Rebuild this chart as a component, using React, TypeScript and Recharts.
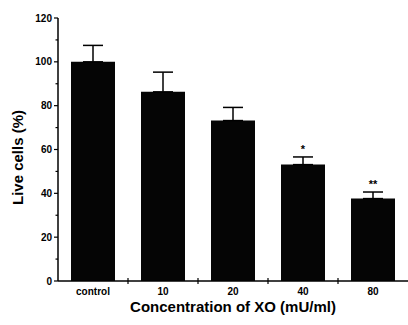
import { ComposedChart, Bar, Line, XAxis, YAxis, ErrorBar, LabelList } from 'recharts'

const CATEGORIES = ['control', '10', '20', '40', '80']
const LIVE = [100, 86.3, 73.2, 53.1, 37.6]
const SD = [7.5, 9, 6, 3.5, 3]
const SIG = ['', '', '', '*', '**']
const Y_TICKS = [0, 10, 20, 30, 40, 50, 60, 70, 80, 90, 100, 110, 120]

const data = CATEGORIES.map((c, i) => ({
  name: c,
  live: LIVE[i],
  err: [0, SD[i]],
  top: LIVE[i] + SD[i],
  sig: SIG[i],
}))

const font = '"Liberation Sans", Arial, sans-serif'

// y ticks: labels on every 20, short minor ticks between
const YTick = (props: any) => {
  const { x, y, payload } = props
  const major = payload.value % 20 === 0
  return (
    <g>
      <line x1={x - (major ? 4 : 2.5)} x2={x} y1={y} y2={y} stroke="#000" strokeWidth={1.2} />
      {major && (
        <text x={x - 6} y={y} dy={3.5} textAnchor="end" fill="#000" fontFamily={font} fontSize={10} fontWeight={700}>
          {payload.value}
        </text>
      )}
    </g>
  )
}

// x ticks: label at centre, crossing tick at category boundary
const XTick = (props: any) => {
  const { x, y, payload, index } = props
  const bx = x + (payload.offset ?? 0)
  return (
    <g>
      {index < CATEGORIES.length - 1 && (
        <line x1={bx} x2={bx} y1={y - 3} y2={y + 3} stroke="#000" strokeWidth={1.2} />
      )}
      <text x={x} y={y} dy={14} textAnchor="middle" fill="#000" fontFamily={font} fontSize={10} fontWeight={700}>
        {payload.value}
      </text>
    </g>
  )
}

export default function App() {
  return (
    <div style={{ width: 408, height: 325, background: '#fff' }}>
      <style>{`body{margin:0}`}</style>
      <ComposedChart width={408} height={325} data={data} margin={{ top: 18, right: 0, left: 0, bottom: 0 }}>
        <XAxis
          dataKey="name"
          height={44}
          interval={0}
          axisLine={{ stroke: '#000', strokeWidth: 1.5 }}
          tickLine={false}
          tickSize={0}
          tickMargin={0}
          tick={<XTick />}
          label={{ value: 'Concentration of XO (mU/ml)', position: 'insideBottom', offset: 13, fill: '#000', fontFamily: font, fontSize: 15, fontWeight: 700 }}
        />
        <YAxis
          width={58}
          domain={[0, 120]}
          ticks={Y_TICKS}
          interval={0}
          tickSize={0}
          tickMargin={0}
          axisLine={{ stroke: '#000', strokeWidth: 1.5 }}
          tickLine={false}
          tick={<YTick />}
          label={{ value: 'Live cells (%)', angle: -90, position: 'insideLeft', offset: 18, dy: 8, fill: '#000', fontFamily: font, fontSize: 15, fontWeight: 700, textAnchor: 'middle' }}
        />
        <Bar dataKey="live" fill="#050505" barSize={44} isAnimationActive={false}>
          <ErrorBar dataKey="err" width={10} stroke="#000" strokeWidth={1.5} />
        </Bar>
        <Line dataKey="top" stroke="none" dot={false} activeDot={false} isAnimationActive={false}>
          <LabelList dataKey="sig" position="top" offset={4} fill="#000" fontFamily={font} fontSize={11} fontWeight={700} />
        </Line>
      </ComposedChart>
    </div>
  )
}
